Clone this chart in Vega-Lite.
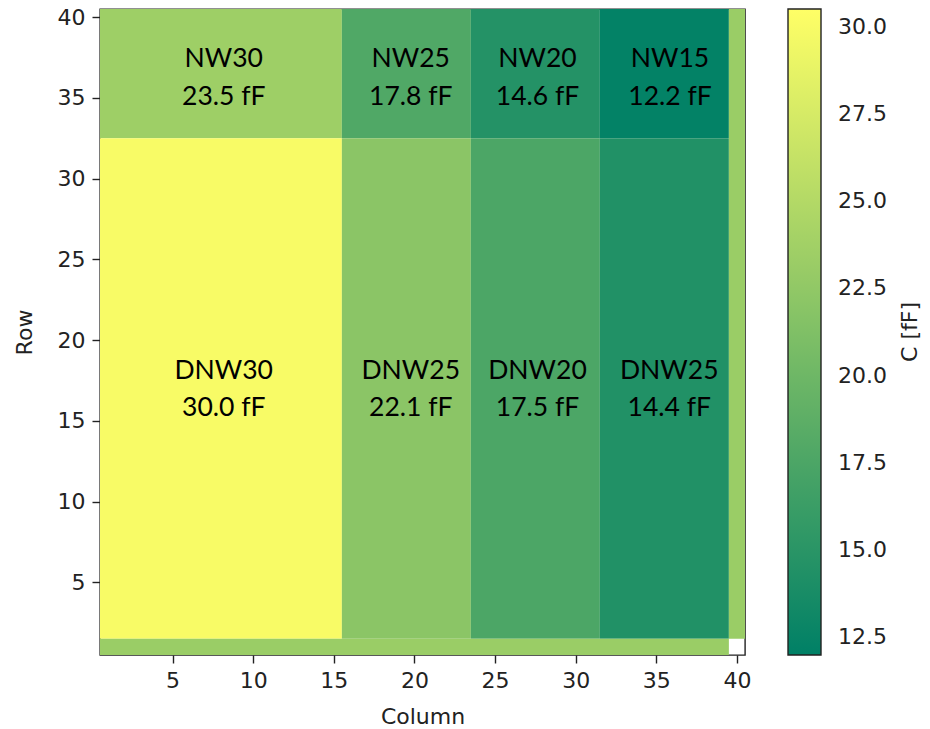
{
  "$schema": "https://vega.github.io/schema/vega-lite/v6.json",
  "autosize": "none",
  "width": 645,
  "height": 646,
  "padding": {"left": 100, "top": 9, "right": 185, "bottom": 74},
  "background": "white",
  "config": {
    "view": {"stroke": "#222", "strokeWidth": 1.4},
    "axis": {
      "grid": false,
      "domain": false,
      "labelFont": "DejaVu Sans",
      "labelFontSize": 22,
      "labelColor": "#222",
      "tickColor": "#222",
      "tickSize": 8,
      "tickWidth": 1.4,
      "labelPadding": 7,
      "titleFont": "DejaVu Sans",
      "titleFontSize": 22,
      "titleFontWeight": "normal",
      "titleColor": "#222"
    }
  },
  "datasets": {
    "cells": [
      {"c0": 0.5, "c1": 15.5, "r0": 32.5, "r1": 40.5, "C": 23.5},
      {"c0": 15.5, "c1": 23.5, "r0": 32.5, "r1": 40.5, "C": 17.8},
      {"c0": 23.5, "c1": 31.5, "r0": 32.5, "r1": 40.5, "C": 14.6},
      {"c0": 31.5, "c1": 39.5, "r0": 32.5, "r1": 40.5, "C": 12.2},
      {"c0": 0.5, "c1": 15.5, "r0": 1.5, "r1": 32.5, "C": 30.0},
      {"c0": 15.5, "c1": 23.5, "r0": 1.5, "r1": 32.5, "C": 22.1},
      {"c0": 23.5, "c1": 31.5, "r0": 1.5, "r1": 32.5, "C": 17.5},
      {"c0": 31.5, "c1": 39.5, "r0": 1.5, "r1": 32.5, "C": 14.4},
      {"c0": 39.5, "c1": 40.5, "r0": 1.5, "r1": 40.5, "C": 23.2},
      {"c0": 0.5, "c1": 39.5, "r0": 0.5, "r1": 1.5, "C": 23.2}
    ],
    "labels": [
      {"col": 8.17, "row": 37.39, "label": "NW30\n23.5 fF"},
      {"col": 19.77, "row": 37.39, "label": "NW25\n17.8 fF"},
      {"col": 27.63, "row": 37.39, "label": "NW20\n14.6 fF"},
      {"col": 35.85, "row": 37.39, "label": "NW15\n12.2 fF"},
      {"col": 8.17, "row": 18.1, "label": "DNW30\n30.0 fF"},
      {"col": 19.77, "row": 18.1, "label": "DNW25\n22.1 fF"},
      {"col": 27.63, "row": 18.1, "label": "DNW20\n17.5 fF"},
      {"col": 35.8, "row": 18.1, "label": "DNW25\n14.4 fF"}
    ]
  },
  "layer": [
    {
      "data": {"name": "cells"},
      "mark": {"type": "rect"},
      "encoding": {
        "x": {
          "field": "c0", "type": "quantitative",
          "scale": {"domain": [0.5, 40.5], "nice": false, "zero": false},
          "axis": {"title": "Column", "values": [5, 10, 15, 20, 25, 30, 35, 40], "titlePadding": 15}
        },
        "x2": {"field": "c1"},
        "y": {
          "field": "r0", "type": "quantitative",
          "scale": {"domain": [0.5, 40.5], "nice": false, "zero": false},
          "axis": {"title": "Row", "values": [5, 10, 15, 20, 25, 30, 35, 40], "titlePadding": 21}
        },
        "y2": {"field": "r1"},
        "color": {
          "field": "C", "type": "quantitative",
          "scale": {"type": "linear", "domain": [11.97, 30.53], "range": ["#008066", "#ffff66"], "interpolate": "rgb"},
          "legend": {
            "title": "C [fF]",
            "values": [12.5, 15, 17.5, 20, 22.5, 25, 27.5, 30],
            "format": ".1f",
            "gradientLength": 646,
            "gradientThickness": 33,
            "gradientStrokeColor": "#222",
            "gradientStrokeWidth": 1.4,
            "offset": 43,
            "padding": 0,
            "labelOverlap": false,
            "labelFont": "DejaVu Sans",
            "labelFontSize": 22,
            "labelColor": "#222",
            "labelOffset": 17,
            "titleOrient": "right",
            "titleAnchor": "middle",
            "titleFont": "DejaVu Sans",
            "titleFontSize": 22,
            "titleFontWeight": "normal",
            "titleColor": "#222",
            "titlePadding": 35,
            "encode": {"title": {"update": {"angle": {"value": -90}}}}
          }
        }
      }
    },
    {
      "data": {"name": "labels"},
      "mark": {"type": "text", "font": "Lato", "fontSize": 26.5, "lineBreak": "\n", "lineHeight": 37.5, "align": "center", "baseline": "middle", "color": "black"},
      "encoding": {
        "x": {"field": "col", "type": "quantitative"},
        "y": {"field": "row", "type": "quantitative"},
        "text": {"field": "label"}
      }
    }
  ]
}
